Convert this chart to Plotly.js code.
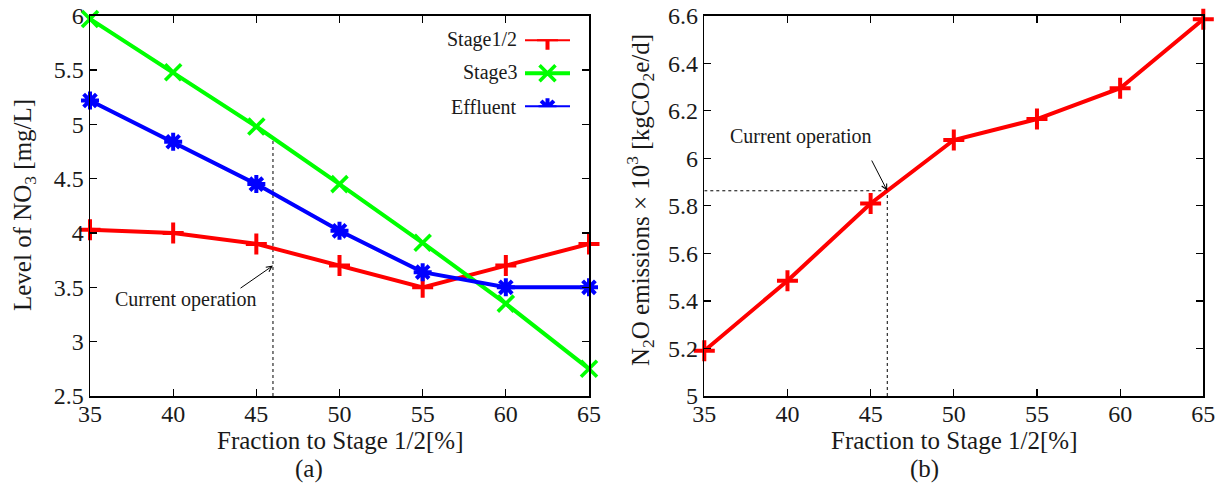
<!DOCTYPE html>
<html>
<head>
<meta charset="utf-8">
<script src="https://cdn.plot.ly/plotly-3.0.1.min.js"></script>
<style>
  html, body { margin: 0; padding: 0; background: #fff; }
  #chart { width: 1230px; height: 486px; }
</style>
</head>
<body>
<div id="chart"></div>
<script>
// Fraction of flow sent to Stage 1/2 (%)
const fraction = [35, 40, 45, 50, 55, 60, 65];

// (a) nitrate levels, mg/L
const no3Stage12 = [4.03, 4.00, 3.90, 3.70, 3.50, 3.70, 3.90];
const no3Stage3 = [5.97, 5.48, 4.98, 4.45, 3.91, 3.35, 2.75];
const no3Effluent = [5.22, 4.84, 4.45, 4.02, 3.64, 3.50, 3.50];

// (b) N2O emissions x 10^3, kgCO2e/d
const n2oEmissions = [5.19, 5.485, 5.81, 6.077, 6.165, 6.295, 6.585];

// Present operating point
const currentFraction = 46;

const seriesNames = ["Stage1/2", "Stage3", "Effluent"];
const xTicks = [35, 40, 45, 50, 55, 60, 65];

// linear interpolation along a series at a given fraction
function interpAt(xs, ys, x) {
  for (let i = 0; i < xs.length - 1; i++) {
    if (x >= xs[i] && x <= xs[i + 1]) {
      const t = (x - xs[i]) / (xs[i + 1] - xs[i]);
      return ys[i] + t * (ys[i + 1] - ys[i]);
    }
  }
  return ys[ys.length - 1];
}

const RED = "#ff0000", GREEN = "#00ff00", BLUE = "#0000ff";
const FONT = "Liberation Serif, Times New Roman, serif";
const INK = "#1a1a1a";
const LW = 4;

const styles = [
  { color: RED, symbol: "cross-thin", size: 15, lw: 4 },
  { color: GREEN, symbol: "x-thin", size: 16, lw: 3.6 },
  { color: BLUE, symbol: "asterisk", size: 15, lw: 4 }
];

function mk(style) {
  return { symbol: style.symbol, size: style.size, color: style.color,
           line: { color: style.color, width: style.lw } };
}

const leftSeries = [no3Stage12, no3Stage3, no3Effluent];

const traces = [];
leftSeries.forEach((ys, i) => {
  traces.push({
    x: fraction, y: ys, xaxis: "x", yaxis: "y",
    type: "scatter", mode: "lines+markers", name: seriesNames[i],
    showlegend: false, cliponaxis: false,
    line: { color: styles[i].color, width: LW },
    marker: mk(styles[i])
  });
});

traces.push({
  x: fraction, y: n2oEmissions, xaxis: "x2", yaxis: "y2",
  type: "scatter", mode: "lines+markers", name: "N2O emissions",
  showlegend: false, cliponaxis: false,
  line: { color: RED, width: LW },
  marker: mk(styles[0])
});

// key samples: a short line with the series marker in the middle
seriesNames.forEach((name, i) => {
  traces.push({
    x: [0, 1, 2], y: [2 - i, 2 - i, 2 - i], xaxis: "x3", yaxis: "y3",
    type: "scatter", mode: "lines+markers", showlegend: false, hoverinfo: "skip",
    line: { color: styles[i].color, width: LW },
    marker: Object.assign(mk(styles[i]), { opacity: [0, 1, 0] })
  });
});

const W = 1230, H = 486;
const px = v => v / W;
const py = v => 1 - v / H;

const axisBase = {
  showline: true, linecolor: "#000", linewidth: 1.5, mirror: "ticks",
  ticks: "inside", ticklen: 7, tickwidth: 1.2, tickcolor: "#000",
  showgrid: false, zeroline: false,
  tickfont: { family: FONT, size: 24, color: INK }
};

const titleFont = { family: FONT, size: 25, color: INK };
const noteFont = { family: FONT, size: 20, color: INK };

// centred paper-positioned text
function label(x, y, text, font, extra) {
  return Object.assign({ xref: "paper", yref: "paper", x: px(x), y: py(y),
    xanchor: "center", yanchor: "middle", showarrow: false, text: text, font: font }, extra || {});
}

const layout = {
  width: W, height: H,
  paper_bgcolor: "#fff", plot_bgcolor: "#fff",
  margin: { l: 0, r: 0, t: 0, b: 0, autoexpand: false },
  showlegend: false,
  xaxis: Object.assign({}, axisBase, {
    domain: [px(90), px(589)], range: [35, 65], tickvals: xTicks,
    anchor: "y", ticklabelstandoff: -4
  }),
  yaxis: Object.assign({}, axisBase, {
    domain: [py(396), py(15.7)], range: [2.5, 6], dtick: 0.5, tick0: 2.5,
    anchor: "x"
  }),
  xaxis2: Object.assign({}, axisBase, {
    domain: [px(704.3), px(1203.3)], range: [35, 65], tickvals: xTicks,
    anchor: "y2", ticklabelstandoff: -4
  }),
  yaxis2: Object.assign({}, axisBase, {
    domain: [py(396), py(15.7)], range: [5, 6.6], dtick: 0.2, tick0: 5,
    anchor: "x2"
  }),
  xaxis3: { domain: [px(525), px(570)], range: [0, 2], visible: false, fixedrange: true, anchor: "y3" },
  yaxis3: { domain: [py(107.3), py(39.3)], range: [0, 2], visible: false, fixedrange: true, anchor: "x3" },
  shapes: [
    { type: "line", xref: "x", yref: "y", layer: "below",
      x0: currentFraction, x1: currentFraction,
      y0: 2.5, y1: interpAt(fraction, no3Stage3, currentFraction),
      line: { color: "#000", width: 1, dash: "dot" } },
    { type: "line", xref: "x2", yref: "y2", layer: "below",
      x0: currentFraction, x1: currentFraction,
      y0: 5, y1: interpAt(fraction, n2oEmissions, currentFraction),
      line: { color: "#000", width: 1, dash: "dot" } },
    { type: "line", xref: "x2", yref: "y2", layer: "below",
      x0: 35, x1: currentFraction,
      y0: interpAt(fraction, n2oEmissions, currentFraction),
      y1: interpAt(fraction, n2oEmissions, currentFraction),
      line: { color: "#000", width: 1, dash: "dot" } }
  ],
  annotations: [
    // axis titles
    label(339.5, 440, "Fraction to Stage 1/2[%]", titleFont),
    label(953.8, 440, "Fraction to Stage 1/2[%]", titleFont),
    label(24, 205, "Level of NO<sub>3</sub> [mg/L]", titleFont, { textangle: -90 }),
    label(640, 200, "N<sub>2</sub>O emissions × 10<sup>3</sup> [kgCO<sub>2</sub>e/d]", titleFont, { textangle: -90 }),
    // key labels
    ...seriesNames.map((name, i) => ({
      xref: "paper", yref: "paper", x: px(519), y: py([39.3, 72.3, 107.3][i]),
      xanchor: "right", yanchor: "middle", showarrow: false,
      text: name, font: noteFont
    })),
    // (a) operating point callout
    { xref: "x", yref: "y", x: currentFraction, y: 3.70,
      axref: "x", ayref: "y", ax: 43.96, ay: 3.483,
      text: "", showarrow: true, arrowhead: 5, arrowsize: 1.1, arrowwidth: 1, arrowcolor: "#000" },
    { xref: "x", yref: "y", x: 40.77, y: 3.39, xanchor: "center", yanchor: "middle", showarrow: false,
      text: "Current operation", font: noteFont },
    // (b) operating point callout
    { xref: "x2", yref: "y2", x: currentFraction, y: interpAt(fraction, n2oEmissions, currentFraction),
      axref: "x2", ayref: "y2", ax: 45.02, ay: 5.997,
      text: "", showarrow: true, arrowhead: 5, arrowsize: 1.1, arrowwidth: 1, arrowcolor: "#000" },
    { xref: "x2", yref: "y2", x: 40.83, y: 6.091, xanchor: "center", yanchor: "middle", showarrow: false,
      text: "Current operation", font: noteFont },
    // panel labels
    label(309, 469, "(a)", titleFont),
    label(924, 469, "(b)", titleFont)
  ]
};

Plotly.newPlot("chart", traces, layout, { staticPlot: true, displayModeBar: false });
</script>
</body>
</html>
